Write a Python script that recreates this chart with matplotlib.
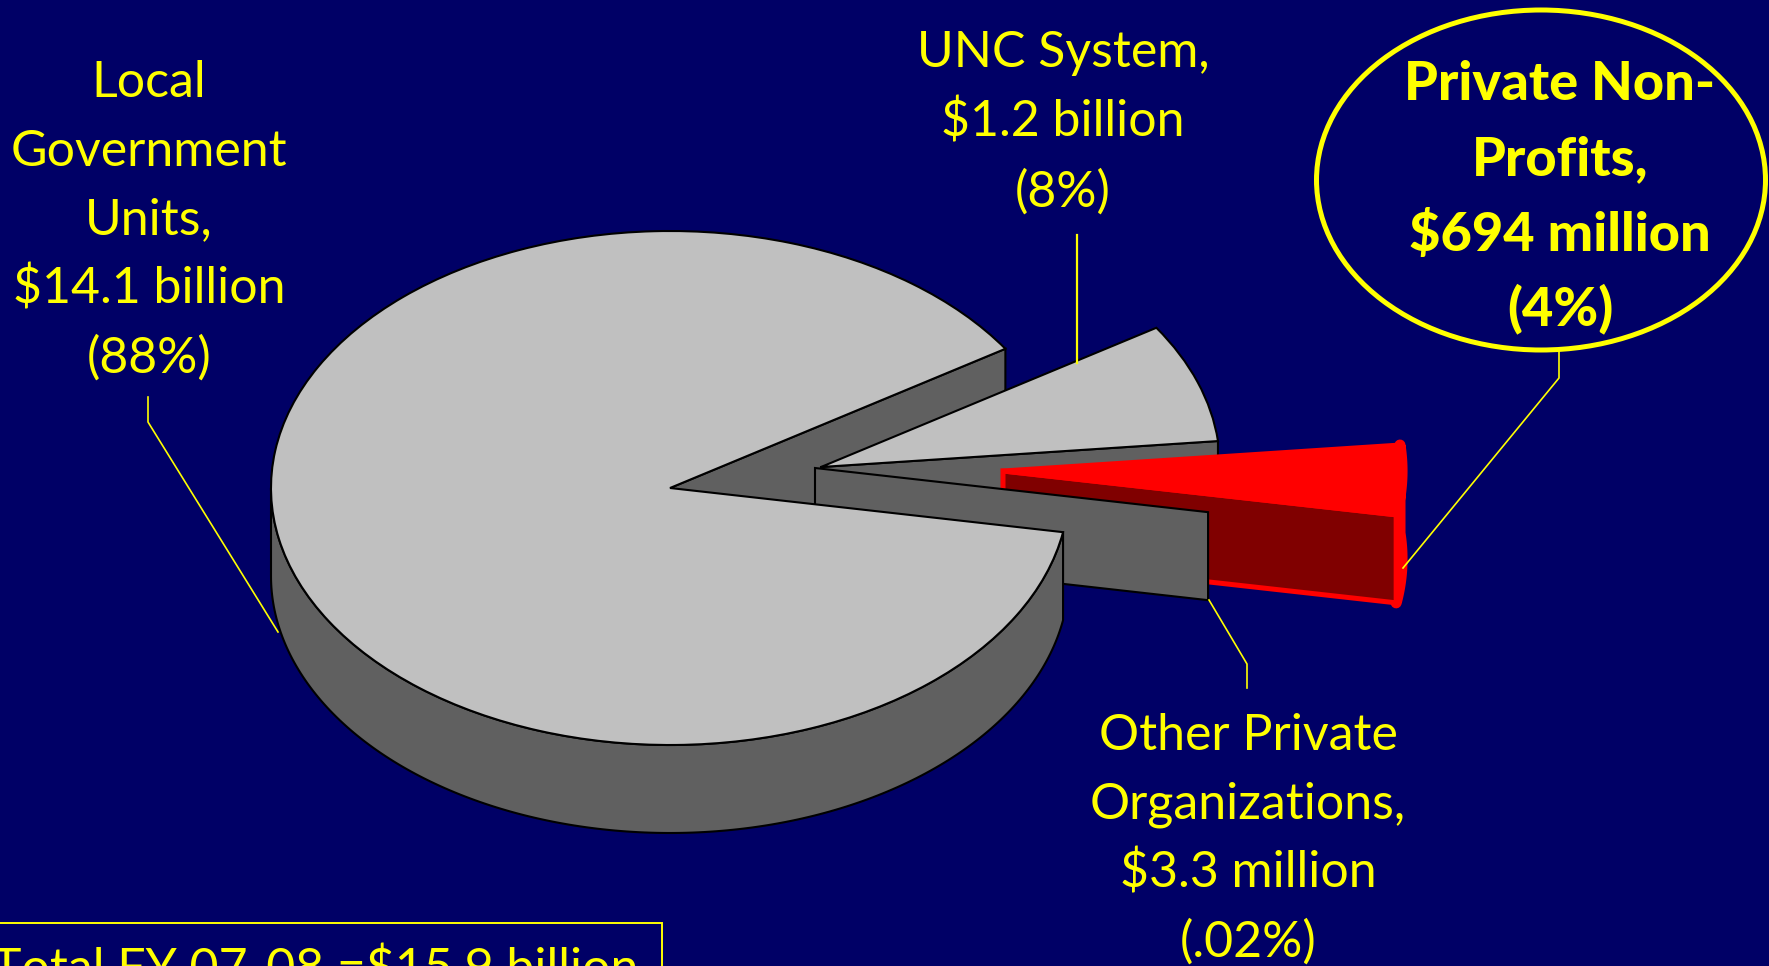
import numpy as np
import matplotlib
matplotlib.use('Agg')
import matplotlib.pyplot as plt
from matplotlib.patches import Wedge, Ellipse, Polygon, Rectangle
from matplotlib.transforms import Affine2D

# billions of dollars, FY 07-08
slices = ['Local Government Units', 'Other Private Organizations', 'Private Non-Profits', 'UNC System']
values = [14.1, 0.0033, 0.694, 1.2]

local_label = ['Local', 'Government', 'Units,', '$14.1 billion', '(88%)']
unc_label = ['UNC System,', '$1.2 billion', '(8%)']
nonprofit_label = ['Private Non-', 'Profits,', '$694 million', '(4%)']
other_label = ['Other Private', 'Organizations,', '$3.3 million', '(.02%)']
total_label = 'Total FY 07-08 =$15.9 billion'

BG = '#000066'
YELLOW = '#ffff00'
GREY_TOP = '#c0c0c0'
GREY_SIDE = '#606060'
RX, RY, DEPTH = 399, 257, 88
START = 32.8

fig = plt.figure(figsize=(17.69, 9.66), dpi=100, facecolor=BG)
ax = fig.add_axes([0, 0, 1, 1])
ax.set_xlim(0, 1769)
ax.set_ylim(966, 0)
ax.axis('off')


def point(c, ang, dy=0):
    a = np.radians(ang)
    return np.column_stack([c[0] + RX * np.cos(a), c[1] - RY * np.sin(a) + dy])


def wall(c, ang, color, edge, lw, z):
    p = point(c, ang)[0]
    ax.add_patch(Polygon([c, p, (p[0], p[1] + DEPTH), (c[0], c[1] + DEPTH)], closed=True,
                         fc=color, ec=edge, lw=lw, zorder=z, joinstyle='miter'))


def rim(c, a0, a1, color, edge, lw, z):
    ang = np.linspace(a0, a1, 200)
    top = point(c, ang)
    bottom = point(c, ang, DEPTH)
    ax.add_patch(Polygon(np.vstack([top, bottom[::-1]]), closed=True, fc=color, ec=edge, lw=lw, zorder=z,
                         joinstyle='round'))


def top(c, a0, a1, color, edge, lw, z):
    # unit wedge squashed into the tilted ellipse
    tr = Affine2D().scale(RX, -RY).translate(c[0], c[1]) + ax.transData
    ax.add_patch(Wedge((0, 0), 1, a0, a1, fc=color, ec=edge, lw=lw, zorder=z, transform=tr))


# slice angles from the values
total = sum(values)
sweep = [v / total * 360 for v in values]
local_a0, local_a1 = START, START + sweep[0]
other_a0, other_a1 = local_a1, local_a1 + sweep[1]
np_a0, np_a1 = other_a1, other_a1 + sweep[2]
unc_a0, unc_a1 = np_a1, np_a1 + sweep[3]

local_c = (670, 488)
unc_c = (821, 467)
np_c = (1003, 471)
other_c = (815, 468)

# back to front
wall(local_c, local_a0, GREY_SIDE, 'black', 1.5, 1)
wall(unc_c, unc_a0, GREY_SIDE, 'black', 1.5, 2)
top(unc_c, unc_a0, unc_a1, GREY_TOP, 'black', 1.5, 3)
rim(np_c, np_a0, np_a1, 'red', 'red', 8, 4)
wall(np_c, np_a0, '#800000', 'red', 3.6, 4)
top(np_c, np_a0, np_a1, 'red', 'red', 3.6, 5)
wall(other_c, other_a0, GREY_SIDE, 'black', 1.5, 6)
rim(local_c, 180, local_a1, GREY_SIDE, 'black', 1.5, 7)
top(local_c, local_a0, local_a1, GREY_TOP, 'black', 1.5, 8)

# leader lines
ax.plot([1077, 1077], [235, 363], color=YELLOW, lw=1.6, zorder=9)
ax.plot([148, 148, 278], [397, 422, 632], color=YELLOW, lw=1.2, zorder=9)
ax.plot([1559, 1559, 1403], [350, 378, 568], color=YELLOW, lw=1.2, zorder=9)
ax.plot([1209, 1247, 1247], [600, 664, 688], color=YELLOW, lw=1.2, zorder=9)

# callout and total box
ax.add_patch(Ellipse((1541, 180), 449, 340, fc='none', ec=YELLOW, lw=3.6, zorder=10))
ax.add_patch(Rectangle((-10, 923), 672, 80, fc='none', ec=YELLOW, lw=1.4, zorder=10, clip_on=False))


def label(lines, x, ys, size=36, **kw):
    for s, y in zip(lines, ys):
        ax.text(x, y, s, color=YELLOW, ha='center', va='center', family='Lato', fontsize=size, zorder=11, **kw)


label(local_label, 149, [83, 152, 220, 289, 358])
label(unc_label, 1063, [53, 122, 192])
label(nonprofit_label, 1560, [84, 160, 235, 309], size=39, fontweight='black')
label(other_label, 1248, [736, 805, 873, 942])
ax.text(-8, 985, total_label, color=YELLOW, ha='left', va='baseline', family='Lato', fontsize=36, zorder=11)

fig.savefig('out.png', dpi=100, facecolor=BG)
